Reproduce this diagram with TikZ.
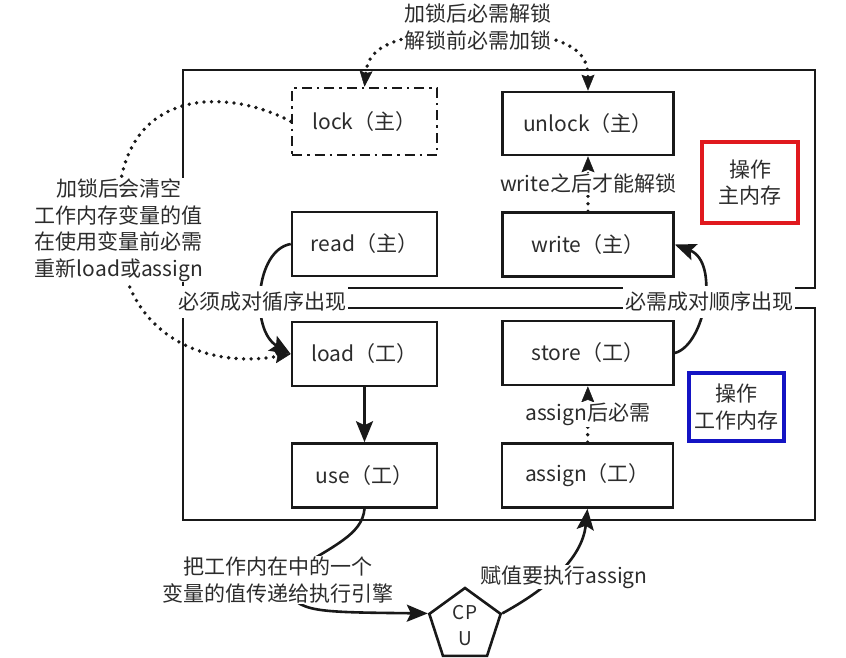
\documentclass[tikz,border=0pt]{standalone}
\usepackage{fontspec}
\setmainfont{Noto Sans CJK SC}
\usetikzlibrary{arrows.meta,shapes.geometric,backgrounds}
\definecolor{inkgray}{HTML}{2C2C2C}
\definecolor{opred}{HTML}{E0191E}
\definecolor{opblue}{HTML}{1414C4}
\tikzset{
  memframe/.style={line width=2.6pt,black!90},
  opbox/.style={draw=black!90,line width=2.6pt,fill=white,inner sep=0pt,minimum height=64pt,text=inkgray},
  opl/.style={opbox,minimum width=145pt},
  opr/.style={opbox,minimum width=171pt},
  lockline/.style={dash pattern=on 10pt off 5pt on 2.5pt off 5pt},
  rulenote/.style={fill=white,text=inkgray,align=center,inner sep=1pt},
  memtag/.style={draw,line width=3.2pt,fill=white,align=center,text=inkgray},
  flow/.style={line width=2.6pt,black!90,-{Stealth[length=21pt,width=17pt,inset=4pt]}},
  dotflow/.style={line width=3.8pt,black!90,dash pattern=on 0pt off 7.5pt,line cap=round,
    -{Stealth[length=16pt,width=13pt,inset=2.5pt,line width=0.5pt]}},
}

\begin{document}
\begin{tikzpicture}[x=1pt,y=-1pt,font=\fontsize{21}{26.5}\selectfont]
  \useasboundingbox (0,0) rectangle (846,657);
  % main memory operations
  \node[opl,lockline,minimum height=67pt] (lock) at (364.5,121.5) {lock（主）};
  \node[opr,minimum height=63pt] (unlock) at (588,123.5) {unlock（主）};
  \node[opl] (read) at (364.5,244) {read（主）};
  \node[opr] (write) at (588,244.5) {write（主）};
  % working memory operations
  \node[opl] (load) at (364.5,354) {load（工）};
  \node[opr] (store) at (588,353) {store（工）};
  \node[opl] (use) at (364.5,475.5) {use（工）};
  \node[opr] (assign) at (587.5,475.5) {assign（工）};
  \node[regular polygon,regular polygon sides=5,draw=black!90,line width=2.6pt,fill=white,
    minimum size=75pt,inner sep=0pt,align=center,text=inkgray,
    font=\fontsize{19}{26}\selectfont] (cpu) at (465,625.5) {CP\\U};
  % which memory
  \node[memtag,draw=opred,minimum width=96pt,minimum height=81pt] (mainmem) at (750,182.5) {操作\\主内存};
  \node[memtag,draw=opblue,minimum width=95pt,minimum height=68pt] (workmem) at (736.5,407) {操作\\工作内存};
  % rules
  \node[rulenote] (topnote) at (478,27) {加锁后必需解锁\\解锁前必需加锁};
  \node[rulenote] (lnote) at (119,230) {加锁后会清空\\工作内存变量的值\\在使用变量前必需\\重新load或assign};
  \node[rulenote,minimum height=32pt,inner xsep=2pt] (lpair) at (262,302) {必须成对循序出现};
  \node[rulenote,minimum height=32pt,inner xsep=2pt] (rpair) at (709,302) {必需成对顺序出现};
  \node[rulenote] (unote) at (278,580) {把工作内在中的一个\\变量的值传递给执行引擎};
  \node[rulenote] (anote) at (564,577) {赋值要执行assign};

  \begin{scope}[on background layer]
    \draw[memframe] (183,70) rectangle (815,288);
    \draw[memframe] (183,308) rectangle (815,520);
    % lock <-> unlock
    \draw[dotflow,{Stealth[length=16pt,width=13pt,inset=2.5pt,line width=0.5pt]}-{Stealth[length=16pt,width=13pt,inset=2.5pt,line width=0.5pt]}]
      (lock.north) .. controls (368,50) and (385,35) .. (topnote.center)
      .. controls (570,35) and (588,50) .. (unlock.north);
    \draw[dotflow] (lock.west) .. controls (225,86) and (108,85) .. (lnote.center)
      .. controls (119,330) and (200,370) .. (load.west);
    \draw[dotflow] (write) -- (unlock) node[midway,rulenote] {write之后才能解锁};
    \draw[dotflow] (assign) -- (store) node[midway,rulenote] {assign后必需};
    % pairs
    \draw[flow] (read.west) .. controls (255,250) and (250,330) .. (load.west);
    \draw[flow] (store.east) .. controls (705,345) and (720,262) .. (write.east);
    \draw[flow] (load) -- (use);
    % to and from the cpu
    \draw[flow] (use.south) .. controls (362,535) and (335,545) .. (unote.center)
      .. controls (300,612) .. (cpu.corner 2);
    \draw[flow] (cpu.corner 5) .. controls (545,590) and (582,560) .. (assign.south);
  \end{scope}
\end{tikzpicture}
\end{document}
